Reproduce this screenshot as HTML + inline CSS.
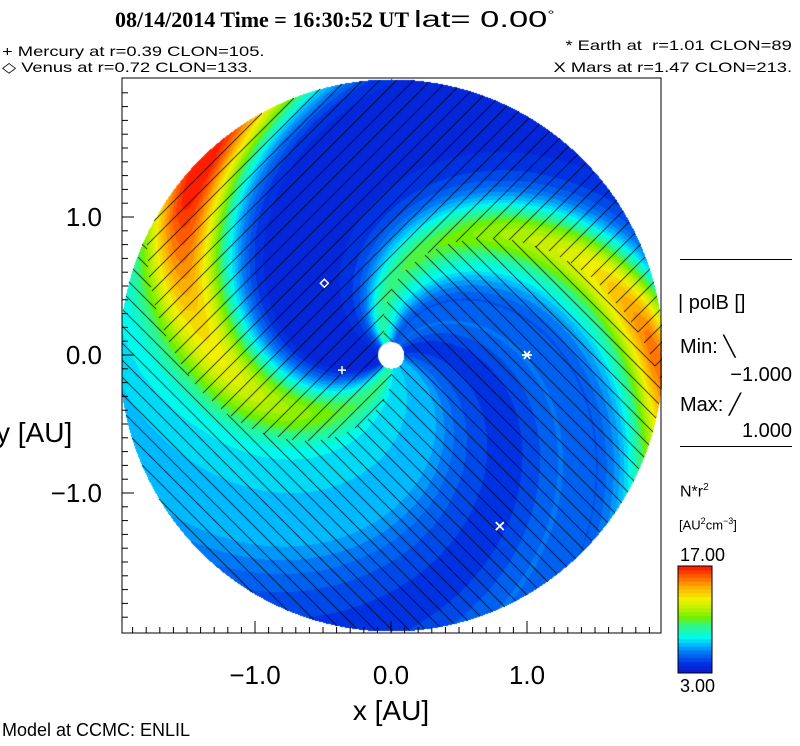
<!DOCTYPE html>
<html><head><meta charset="utf-8">
<style>
body{margin:0;width:800px;height:746px;background:#fff;position:relative;overflow:hidden;font-family:"Liberation Sans",sans-serif;}
.t{position:absolute;white-space:nowrap;color:#000;}
.s{font-family:"Liberation Sans",sans-serif;font-size:14px;}
</style></head><body>
<div class="t" style="left:115px;top:6px;font-family:'Liberation Serif',serif;font-weight:bold;font-size:22px;">08/14/2014 Time = 16:30:52 UT <span style="display:inline-block;transform:scaleX(1.5);transform-origin:0 50%;font-family:'Liberation Sans',sans-serif;font-weight:normal;font-size:23px;">lat= 0.00<sup style="font-size:12px">°</sup></span></div>
<div class="t s" style="left:2px;top:43px;transform:scaleX(1.31);transform-origin:0 0;">+ Mercury at r=0.39 CLON=105.</div>
<div class="t s" style="left:2px;top:59px;transform:scaleX(1.31);transform-origin:0 0;">◇ Venus at r=0.72 CLON=133.</div>
<div class="t s" style="right:8px;top:37px;transform:scaleX(1.31);transform-origin:100% 0;">* Earth at &nbsp;r=1.01 CLON=89</div>
<div class="t s" style="right:8px;top:59px;transform:scaleX(1.31);transform-origin:100% 0;">X Mars at r=1.47 CLON=213.</div>

<canvas id="map" width="540" height="556" style="position:absolute;left:122px;top:78px;"></canvas>
<svg id="ax" width="800" height="746" style="position:absolute;left:0;top:0;"></svg>

<div class="t" style="left:680px;top:259px;width:112px;height:1px;background:#000;"></div>
<div class="t" style="left:678px;top:292px;font-size:20px;">| polB []</div>
<div class="t" style="left:680px;top:334px;font-size:20px;">Min: ╲</div>
<div class="t" style="right:8px;top:364px;font-size:20px;">−1.000</div>
<div class="t" style="left:680px;top:392px;font-size:20px;">Max: ╱</div>
<div class="t" style="right:8px;top:420px;font-size:20px;">1.000</div>
<div class="t" style="left:680px;top:446px;width:112px;height:1px;background:#000;"></div>
<div class="t" style="left:680px;top:482px;font-size:16px;">N*r<sup style="font-size:10px">2</sup></div>
<div class="t" style="left:679px;top:516px;font-size:13px;">[AU<sup style="font-size:9px">2</sup>cm<sup style="font-size:9px">−3</sup>]</div>
<div class="t" style="left:680px;top:545px;font-size:18px;">17.00</div>
<div class="t" style="left:680px;top:676px;font-size:18px;">3.00</div>
<div class="t" style="left:2px;top:720px;font-size:18px;">Model at CCMC: ENLIL</div>

<script>
// background density vs spiral phase (deg)
const bgS=[0,30,60,80,100,150,180,220,235,300,340,360];
const bgV=[5.4,4.3,5.8,5.2,7,4.8,3.8,4.0,5,7.4,6.8,5.4];
// arms
const armS=[258,123];
const armW=[16,13];
const armR=[0,0.5,1,1.5,1.9,2.1];
const armA=[3,4,6,8,11.5,11.5];
const armB=[2.5,3.5,4.5,6.5,9.5,9.5];
// polarity "\" sector in spiral phase
const polSector=[120,280];
// planets [name, xAU, yAU]
const planets=[["mercury",-0.36,-0.11],["venus",-0.49,0.52],["earth",1.0,0],["mars",0.8,-1.24]];
const cStops=[3,4.5,6,7,8,9.5,10.5,12,13,14.5,16,17];
const cCols=[[16,16,200],[0,50,225],[0,120,245],[0,185,255],[0,250,235],[50,245,130],[110,240,0],[200,240,0],[240,240,0],[255,175,0],[255,90,0],[255,30,0]];
const K=63, SP=17;
const cx=391-122, cy=355-78, px=136, py=138, R=2.0;
function interp(xs,ys,x){for(let i=0;i<xs.length-1;i++){if(x<=xs[i+1]){const t=(x-xs[i])/(xs[i+1]-xs[i]);return ys[i]+t*(ys[i+1]-ys[i]);}}return ys[ys.length-1];}
function col(v){v=Math.round(v*2)/2;v=Math.max(3,Math.min(17,v));for(let i=0;i<cStops.length-1;i++){if(v<=cStops[i+1]){const t=(v-cStops[i])/(cStops[i+1]-cStops[i]);return cCols[i].map((c,j)=>Math.round(c+t*(cCols[i+1][j]-c)));}}return cCols[cCols.length-1];}
function dang(a,b){let d=((a-b)%360+540)%360-180;return d;}
const cv=document.getElementById('map');const ctx=cv.getContext('2d');
const img=ctx.createImageData(540,556);
for(let j=0;j<556;j++)for(let i=0;i<540;i++){
 const x=(i-cx)/px,y=(cy-j)/py,r=Math.hypot(x,y);const o=(j*540+i)*4;
 if(r>R||r<0.095){img.data[o+3]=0;continue;}
 let phi=Math.atan2(y,x)*180/Math.PI;let s=((phi+K*r)%360+360)%360;
 let v=interp(bgS,bgV,s);
 const dA=dang(s,armS[0]),dB=dang(s,armS[1]);
 v+=interp(armR,armA,r)*Math.exp(-dA*dA/(2*armW[0]*armW[0]));
 v+=interp(armR,armB,r)*Math.exp(-dB*dB/(2*armW[1]*armW[1]));
 let c=col(v);
 const back=(s>=polSector[0]&&s<=polSector[1]);
 const gx=i+122,gy=j+78;
 const on=back?(((gx+gy)%SP+SP)%SP===0):(((gx-gy)%SP+SP)%SP===0);
 if(on)c=[0,0,0];
 img.data[o]=c[0];img.data[o+1]=c[1];img.data[o+2]=c[2];img.data[o+3]=255;
}
ctx.putImageData(img,0,0);
ctx.fillStyle='#fff';ctx.beginPath();ctx.arc(cx,cy,13,0,7);ctx.fill();

const NS='http://www.w3.org/2000/svg';const ax=document.getElementById('ax');
function mk(tag,at,txt){const e=document.createElementNS(NS,tag);for(const k in at)e.setAttribute(k,at[k]);if(txt!==undefined)e.textContent=txt;ax.appendChild(e);return e;}
function X(v){return 391+v*px;} function Y(v){return 355-v*py;}
let e=mk('rect',{x:122,y:78,width:539,height:555,fill:'none',stroke:'#000','stroke-width':1});


for(let k=-19;k<=19;k++){const v=k/10;const L=(k%10===0)?12:6;
 e=mk('line',{x1:X(v),x2:X(v),y1:633,y2:633-L,stroke:'#000'});
 
 
 if(Y(v)>78&&Y(v)<633){e=mk('line',{x1:122,x2:122+L,y1:Y(v),y2:Y(v),stroke:'#000'});
 
 }
}
const tickLabels=["−1.0","0.0","1.0"];const tickVals=[-1,0,1];
tickVals.forEach((v,i)=>{
 e=mk('text',{x:X(v),y:684,'text-anchor':'middle','font-size':26,'font-family':'Liberation Sans'},tickLabels[i]);
 
 
 e=mk('text',{x:102,y:Y(v)+9,'text-anchor':'end','font-size':26,'font-family':'Liberation Sans'},tickLabels[i]);
 
 
});
e=mk('text',{x:391,y:720,'text-anchor':'middle','font-size':28,'font-family':'Liberation Sans'},'x [AU]');


e=mk('text',{x:-4,y:442,'font-size':28,'font-family':'Liberation Sans'},'y [AU]');


planets.forEach(p=>{const x=X(p[1]),y=Y(p[2]);let g;
 if(p[0]==='mercury')g=mk('path',{d:`M${x-4} ${y}H${x+4}M${x} ${y-4}V${y+4}`,stroke:'#fff','stroke-width':1.5});
 else if(p[0]==='venus')g=mk('path',{d:`M${x} ${y-4}L${x+4} ${y}L${x} ${y+4}L${x-4} ${y}Z`,stroke:'#fff','stroke-width':1.5,fill:'none'});
 else if(p[0]==='earth')g=mk('path',{d:`M${x-5} ${y}H${x+5}M${x-3} ${y-4}L${x+3} ${y+4}M${x+3} ${y-4}L${x-3} ${y+4}`,stroke:'#fff','stroke-width':1.8});
 else g=mk('path',{d:`M${x-4} ${y-4}L${x+4} ${y+4}M${x+4} ${y-4}L${x-4} ${y+4}`,stroke:'#fff','stroke-width':1.8});
 
 
});
const cbLevels=28;
for(let k=0;k<cbLevels;k++){const v=3+(k+0.5)*14/cbLevels;const c=col(v);const h=107/cbLevels;
 e=mk('rect',{x:678,y:673-(k+1)*h,width:34,height:h+0.5,fill:`rgb(${c})`});
 
 
}
e=mk('rect',{x:678,y:566,width:34,height:107,fill:'none',stroke:'#000'});


</script>
</body></html>
